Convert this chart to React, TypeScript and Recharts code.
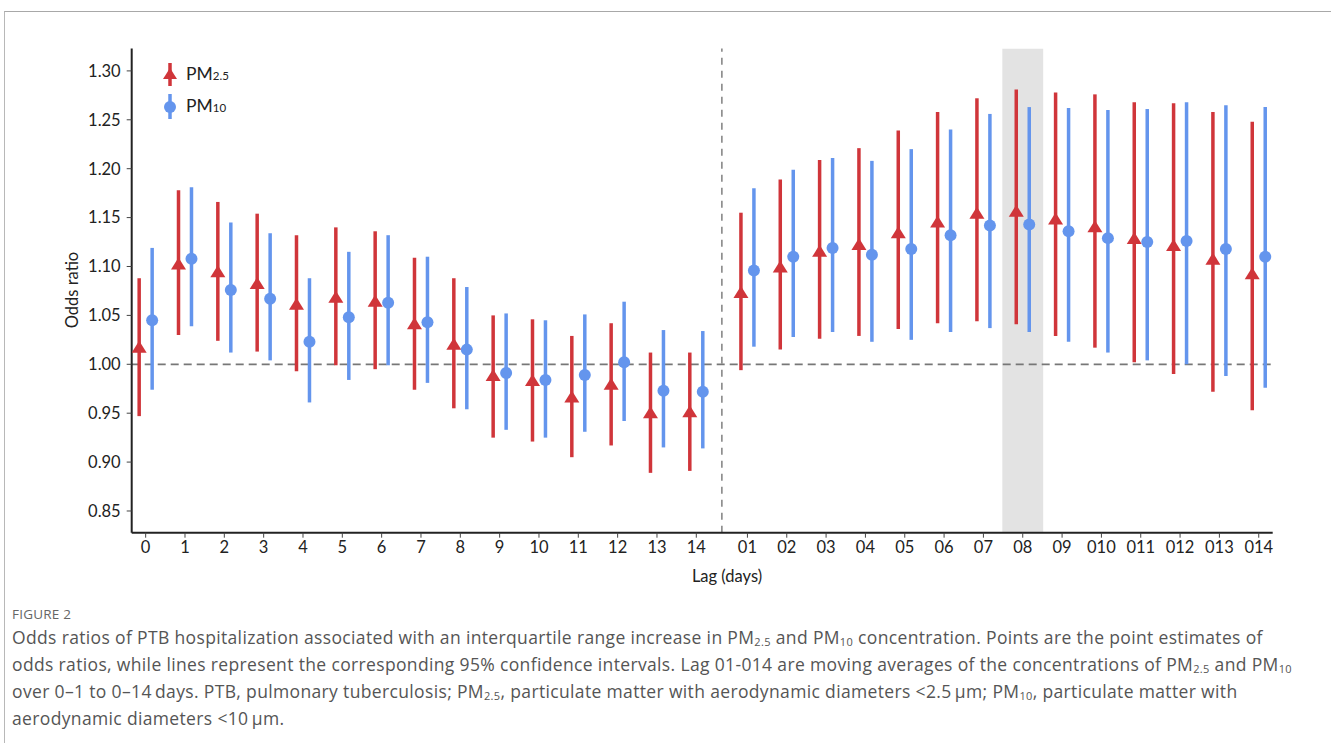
import React from 'react';
import {
  ComposedChart,
  Scatter,
  ErrorBar,
  XAxis,
  YAxis,
  ReferenceLine,
  ReferenceArea,
} from 'recharts';

const lagLabels = [
  '0', '1', '2', '3', '4', '5', '6', '7', '8', '9', '10', '11', '12', '13', '14',
  '01', '02', '03', '04', '05', '06', '07', '08', '09', '010', '011', '012', '013', '014',
];

const pm25Or = [1.017, 1.102, 1.094, 1.082, 1.061, 1.068, 1.064, 1.041, 1.020, 0.988, 0.983, 0.966, 0.979, 0.950, 0.951,
  1.073, 1.099, 1.115, 1.122, 1.134, 1.145, 1.154, 1.156, 1.148, 1.140, 1.128, 1.121, 1.107, 1.092];
const pm25Low = [0.947, 1.030, 1.024, 1.013, 0.993, 0.999, 0.995, 0.974, 0.955, 0.925, 0.921, 0.905, 0.917, 0.889, 0.891,
  0.994, 1.015, 1.026, 1.029, 1.036, 1.042, 1.044, 1.041, 1.029, 1.017, 1.002, 0.990, 0.972, 0.953];
const pm25High = [1.088, 1.178, 1.166, 1.154, 1.132, 1.140, 1.136, 1.109, 1.088, 1.050, 1.046, 1.029, 1.042, 1.012, 1.012,
  1.155, 1.189, 1.209, 1.221, 1.239, 1.258, 1.272, 1.281, 1.278, 1.276, 1.268, 1.267, 1.258, 1.248];

const pm10Or = [1.045, 1.108, 1.076, 1.067, 1.023, 1.048, 1.063, 1.043, 1.015, 0.991, 0.984, 0.989, 1.002, 0.973, 0.972,
  1.096, 1.110, 1.119, 1.112, 1.118, 1.132, 1.142, 1.143, 1.136, 1.129, 1.125, 1.126, 1.118, 1.110];
const pm10Low = [0.974, 1.039, 1.012, 1.004, 0.961, 0.984, 0.999, 0.981, 0.954, 0.933, 0.925, 0.931, 0.942, 0.915, 0.914,
  1.018, 1.028, 1.033, 1.023, 1.025, 1.033, 1.037, 1.033, 1.023, 1.012, 1.004, 1.000, 0.988, 0.976];
const pm10High = [1.119, 1.181, 1.145, 1.134, 1.088, 1.115, 1.132, 1.110, 1.079, 1.052, 1.045, 1.051, 1.064, 1.035, 1.034,
  1.180, 1.199, 1.211, 1.208, 1.220, 1.240, 1.256, 1.263, 1.262, 1.260, 1.261, 1.268, 1.265, 1.263];

const yTicks = [0.85, 0.9, 0.95, 1.0, 1.05, 1.1, 1.15, 1.2, 1.25, 1.3];
const highlightLag = '08';

const RED = '#d0353a';
const BLUE = '#6495ed';
const FONT = 'Lato, "Open Sans", sans-serif';

// single lags sit at 0..14, moving averages a bit further right
const GAP = 0.3;
const lagPos = lagLabels.map((_, i) => (i < 15 ? i : i + GAP));
const OFFSET = 0.165;

const pm25Data = lagPos.map((p, i) => ({
  x: p - OFFSET,
  y: pm25Or[i],
  err: [pm25Or[i] - pm25Low[i], pm25High[i] - pm25Or[i]],
}));
const pm10Data = lagPos.map((p, i) => ({
  x: p + OFFSET,
  y: pm10Or[i],
  err: [pm10Or[i] - pm10Low[i], pm10High[i] - pm10Or[i]],
}));

const hiPos = lagPos[lagLabels.indexOf(highlightLag)];
const splitPos = (lagPos[14] + lagPos[15]) / 2;

const Triangle = (props: any) => {
  const { cx, cy } = props;
  return <polygon points={`${cx},${cy - 7} ${cx - 7.5},${cy + 5} ${cx + 7.5},${cy + 5}`} fill={RED} />;
};

const Dot = (props: any) => {
  const { cx, cy } = props;
  return <circle cx={cx} cy={cy} r={6} fill={BLUE} />;
};

const Sub = ({ main, sub }: { main: string; sub: string }) => (
  <span>
    {main}
    <span style={{ fontSize: 11.5 }}>{sub}</span>
  </span>
);

const LegendBox = () => (
  <div style={{ fontFamily: FONT, fontSize: 17.5, color: '#222', lineHeight: '32px' }}>
    <div style={{ display: 'flex', alignItems: 'center', height: 32 }}>
      <svg width={20} height={26}>
        <line x1={10} y1={1} x2={10} y2={24} stroke={RED} strokeWidth={3.5} />
        <polygon points="10,6 3,17 17,17" fill={RED} />
      </svg>
      <span style={{ marginLeft: 6 }}><Sub main="PM" sub="2.5" /></span>
    </div>
    <div style={{ display: 'flex', alignItems: 'center', height: 32 }}>
      <svg width={20} height={26}>
        <line x1={10} y1={0} x2={10} y2={25} stroke={BLUE} strokeWidth={3.5} />
        <circle cx={10} cy={13} r={6} fill={BLUE} />
      </svg>
      <span style={{ marginLeft: 6 }}><Sub main="PM" sub="10" /></span>
    </div>
  </div>
);

const captionLines = [
  ['Odds ratios of PTB hospitalization associated with an interquartile range increase in PM', '2.5', ' and PM', '10', ' concentration. Points are the point estimates of'],
  ['odds ratios, while lines represent the corresponding 95% confidence intervals. Lag 01-014 are moving averages of the concentrations of PM', '2.5', ' and PM', '10'],
  ['over 0\u20131 to 0\u201314\u2009days. PTB, pulmonary tuberculosis; PM', '2.5', ', particulate matter with aerodynamic diameters <2.5\u2009\u03bcm; PM', '10', ', particulate matter with'],
  ['aerodynamic diameters <10\u2009\u03bcm.'],
];

export default function App() {
  return (
    <div style={{ position: 'fixed', left: 0, top: 0, width: 1331, height: 743, background: '#fff', overflow: 'hidden' }}>
      <div style={{ position: 'absolute', left: 4, top: 11, right: 0, bottom: 0, borderTop: '1px solid #a8a8a8', borderLeft: '1px solid #b8b8b8' }} />
      <div style={{ position: 'absolute', left: 0, top: 0 }}>
        <ComposedChart width={1331} height={600} margin={{ top: 48.5, right: 58.3, bottom: 27.3, left: 71.7 }}>
          <XAxis
            type="number"
            dataKey="x"
            domain={[-0.355, 28.655]}
            ticks={lagPos}
            interval={0}
            allowDataOverflow
            height={40}
            tickFormatter={(v: number) => lagLabels[lagPos.findIndex((p) => Math.abs(p - v) < 0.01)]}
            tick={{ fill: '#222', fontSize: 16.5, fontFamily: FONT }}
            tickSize={5}
            tickMargin={4}
            axisLine={{ stroke: '#222', strokeWidth: 2 }}
            tickLine={{ stroke: '#444', strokeWidth: 1 }}
            label={{
              content: () => (
                <text x={727} y={582} textAnchor="middle" fill="#222" fontSize={16.5} fontFamily={FONT}>Lag (days)</text>
              ),
            }}
          />
          <YAxis
            type="number"
            domain={[0.8278, 1.3229]}
            ticks={yTicks}
            allowDataOverflow
            width={60}
            tickFormatter={(v: number) => v.toFixed(2)}
            tick={{ fill: '#222', fontSize: 16.5, fontFamily: FONT }}
            tickSize={5}
            tickMargin={6}
            axisLine={{ stroke: '#222', strokeWidth: 2 }}
            tickLine={{ stroke: '#444', strokeWidth: 1 }}
            label={{
              content: () => (
                <text x={78} y={290} transform="rotate(-90 78 290)" textAnchor="middle" fill="#222" fontSize={16.5} fontFamily={FONT}>Odds ratio</text>
              ),
            }}
          />
          <ReferenceLine y={1} stroke="#777" strokeWidth={1.8} strokeDasharray="8 5" />
          <ReferenceLine x={splitPos} stroke="#888" strokeWidth={1.6} strokeDasharray="7 6" />
          <Scatter name="PM2.5" data={pm25Data} dataKey="y" shape={Triangle} isAnimationActive={false}>
            <ErrorBar dataKey="err" direction="y" width={0} stroke={RED} strokeWidth={3.5} />
          </Scatter>
          <Scatter name="PM10" data={pm10Data} dataKey="y" shape={Dot} isAnimationActive={false}>
            <ErrorBar dataKey="err" direction="y" width={0} stroke={BLUE} strokeWidth={3.5} />
          </Scatter>
          <ReferenceArea x1={hiPos - 0.52} x2={hiPos + 0.52} fill="#000" fillOpacity={0.11} stroke="none" ifOverflow="hidden" />
        </ComposedChart>
      </div>
      <div style={{ position: 'absolute', left: 160, top: 59 }}>
        <LegendBox />
      </div>
      <div style={{ position: 'absolute', left: 12, top: 605, fontFamily: '"Open Sans", sans-serif', fontSize: 13.5, color: '#666', letterSpacing: 0.2 }}>
        FIGURE 2
      </div>
      <div style={{ position: 'absolute', left: 12, top: 626, fontFamily: '"Open Sans", sans-serif', fontSize: 17.5, color: '#555', lineHeight: '23px', letterSpacing: 0.35 }}>
        {captionLines.map((parts, li) => (
          <div key={li} style={{ whiteSpace: 'nowrap' }}>
            {parts.map((p, pi) => (pi % 2 === 1 ? <sub key={pi} style={{ fontSize: 11, verticalAlign: '-2px' }}>{p}</sub> : <span key={pi}>{p}</span>))}
          </div>
        ))}
      </div>
    </div>
  );
}
